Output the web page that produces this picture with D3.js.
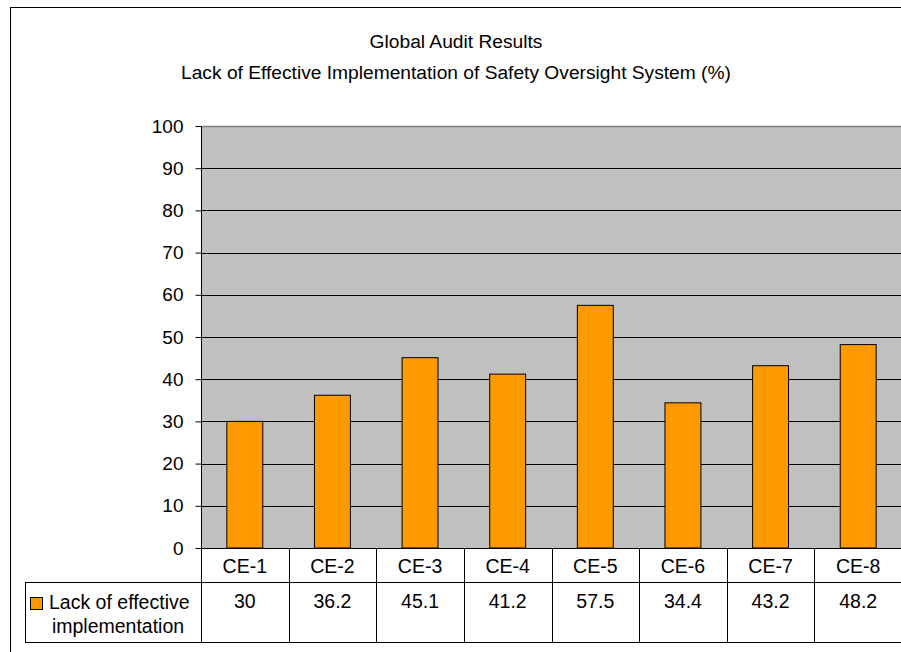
<!DOCTYPE html>
<html lang="en">
<head>
<meta charset="UTF-8"/>
<title>Global Audit Results</title>
<style>
  body { margin: 0; background: #fff; }
  text { font-family: "Liberation Sans", Arial, sans-serif; fill: #000; }
</style>
</head>
<body>
<svg id="chart" width="901" height="652"></svg>
<script src="https://d3js.org/d3.v7.min.js"></script>
<script>
  // data
  var categories = ["CE-1", "CE-2", "CE-3", "CE-4", "CE-5", "CE-6", "CE-7", "CE-8"];
  var values = [30, 36.2, 45.1, 41.2, 57.5, 34.4, 43.2, 48.2];
  var yTicks = [0, 10, 20, 30, 40, 50, 60, 70, 80, 90, 100];
  var seriesName = ["Lack of effective", "implementation"];
  var titleLines = ["Global Audit Results", "Lack of Effective Implementation of Safety Oversight System (%)"];

  var svg = d3.select("#chart");

  var plotL = 201, plotR = 902, plotT = 126, plotB = 548;
  var row1 = 582, row2 = 642;

  var x = d3.scaleBand().domain(categories).range([plotL, plotR]);
  var y = d3.scaleLinear().domain([0, 100]).range([plotB, plotT]);

  // outer chart border (runs off the right and bottom)
  svg.append("rect")
    .attr("x", 10.5).attr("y", 7.5)
    .attr("width", 960).attr("height", 700)
    .attr("fill", "#fff").attr("stroke", "#000");

  // title
  svg.selectAll("text.title")
    .data(titleLines)
    .enter().append("text")
    .attr("class", "title")
    .attr("x", 456)
    .attr("y", function (d, i) { return 48 + i * 31; })
    .attr("text-anchor", "middle")
    .style("font-size", "19.2px")
    .text(function (d) { return d; });

  // plot area
  svg.append("rect")
    .attr("x", plotL).attr("y", plotT)
    .attr("width", plotR - plotL).attr("height", plotB - plotT)
    .attr("fill", "#c0c0c0");

  // gridlines
  svg.append("g")
    .selectAll("line")
    .data(yTicks.filter(function (d) { return d > 0; }))
    .enter().append("line")
    .attr("x1", plotL).attr("x2", plotR)
    .attr("y1", function (d) { return Math.round(y(d)) + 0.5; })
    .attr("y2", function (d) { return Math.round(y(d)) + 0.5; })
    .attr("stroke", function (d) { return d === 100 ? "#808080" : "#000"; })
    .attr("stroke-width", function (d) { return d === 100 ? 1.5 : 1; });

  // bars
  var bw = x.bandwidth() * 0.41;
  svg.append("g")
    .selectAll("rect")
    .data(values)
    .enter().append("rect")
    .attr("x", function (d, i) { return x(categories[i]) + (x.bandwidth() - bw) / 2; })
    .attr("y", function (d) { return y(d); })
    .attr("width", bw)
    .attr("height", function (d) { return y(0) - y(d); })
    .attr("fill", "#ff9900")
    .attr("stroke", "#000")
    .attr("stroke-width", 1);

  // y axis
  var yAxis = svg.append("g")
    .attr("transform", "translate(" + (plotL + 0.5) + ",0)")
    .call(d3.axisLeft(y).tickValues(yTicks).tickSize(6).tickPadding(12).tickSizeOuter(0));
  yAxis.select(".domain").remove();
  yAxis.selectAll("text").style("font-size", "19px").attr("font-family", null);
  yAxis.selectAll("line").attr("stroke", "#000");

  svg.append("line")
    .attr("x1", plotL + 0.5).attr("x2", plotL + 0.5)
    .attr("y1", plotT).attr("y2", row2)
    .attr("stroke", "#000");

  // data table
  var tbl = svg.append("g").attr("stroke", "#000").attr("fill", "none");
  tbl.append("line").attr("x1", plotL).attr("x2", plotR).attr("y1", plotB + 0.5).attr("y2", plotB + 0.5);
  tbl.append("line").attr("x1", 25).attr("x2", plotR).attr("y1", row1 + 0.5).attr("y2", row1 + 0.5);
  tbl.append("line").attr("x1", 25).attr("x2", plotR).attr("y1", row2 + 0.5).attr("y2", row2 + 0.5);
  tbl.append("line").attr("x1", 25.5).attr("x2", 25.5).attr("y1", row1).attr("y2", row2);
  tbl.selectAll("line.sep")
    .data(categories.slice(1))
    .enter().append("line")
    .attr("class", "sep")
    .attr("x1", function (d) { return Math.round(x(d)) + 0.5; })
    .attr("x2", function (d) { return Math.round(x(d)) + 0.5; })
    .attr("y1", plotB).attr("y2", row2);

  svg.append("g")
    .selectAll("text")
    .data(categories)
    .enter().append("text")
    .attr("x", function (d) { return x(d) + x.bandwidth() / 2; })
    .attr("y", 573)
    .attr("text-anchor", "middle")
    .style("font-size", "19.5px")
    .text(function (d) { return d; });

  svg.append("g")
    .selectAll("text")
    .data(values)
    .enter().append("text")
    .attr("x", function (d, i) { return x(categories[i]) + x.bandwidth() / 2; })
    .attr("y", 608)
    .attr("text-anchor", "middle")
    .style("font-size", "19.5px")
    .text(function (d) { return d; });

  // legend cell
  svg.append("rect")
    .attr("x", 30.5).attr("y", 597.5)
    .attr("width", 12).attr("height", 12)
    .attr("fill", "#ff9900").attr("stroke", "#000");

  svg.append("text")
    .attr("x", 49).attr("y", 609)
    .style("font-size", "19.5px")
    .text(seriesName[0]);
  svg.append("text")
    .attr("x", 118).attr("y", 633)
    .attr("text-anchor", "middle")
    .style("font-size", "19.5px")
    .text(seriesName[1]);
</script>
</body>
</html>
